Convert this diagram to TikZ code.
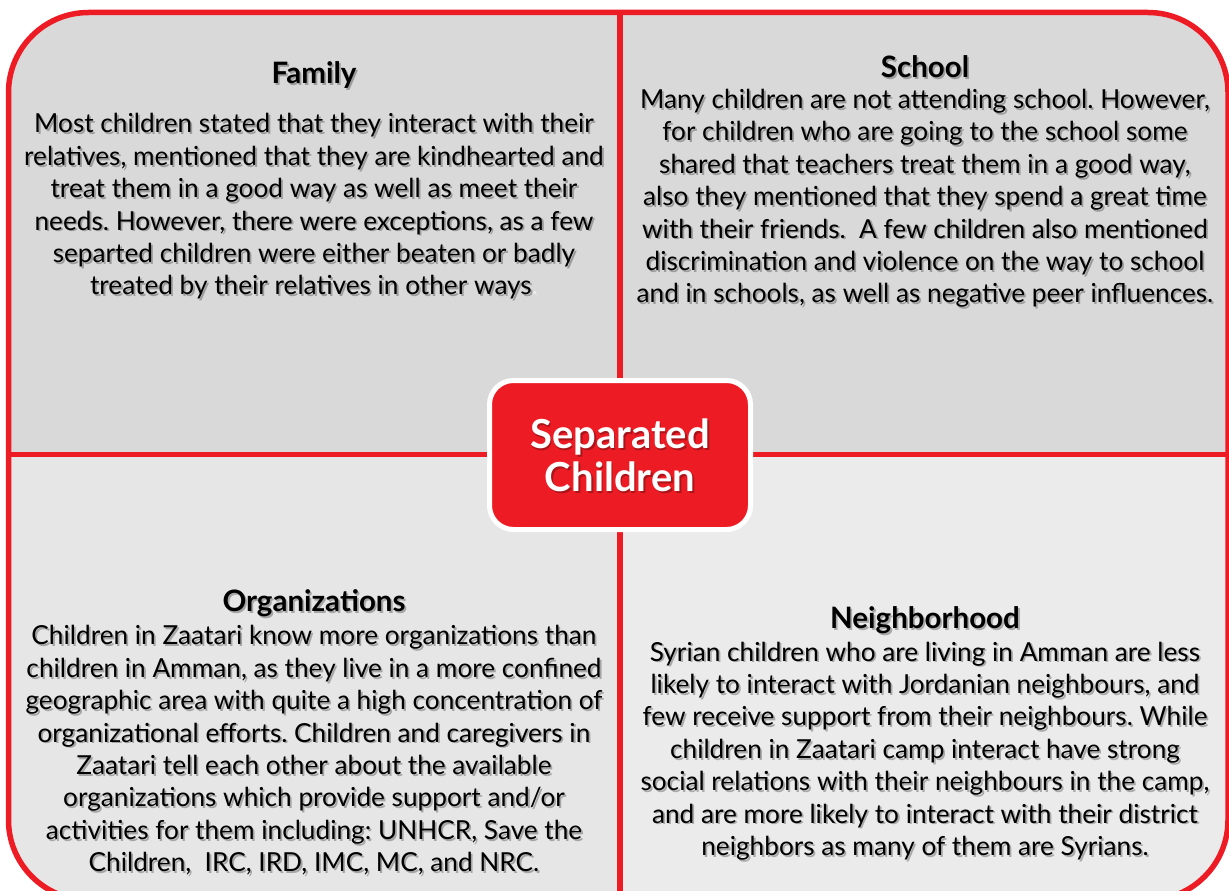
\documentclass[tikz,border=0pt]{standalone}
\usepackage{fontspec}
\setmainfont{Lato}
\frenchspacing
\definecolor{framered}{HTML}{ED1C24}
\definecolor{topgray}{HTML}{D9D9D9}
\definecolor{leftgray}{HTML}{E6E6E6}
\definecolor{rightgray}{HTML}{EBEBEB}
\tikzset{
  frameline/.style={draw=framered, line width=5.5pt},
  title/.style={font=\fontsize{29.5}{34}\selectfont\bfseries, inner sep=0pt},
  body/.style={font=\fontsize{26.2}{32.4}\selectfont, align=center, inner sep=0pt},
  hub/.style={fill=framered, draw=white, line width=5pt, rounded corners=24pt,
    minimum width=261pt, minimum height=149pt, inner sep=0pt},
  hubtext/.style={font=\fontsize{40}{43}\selectfont\bfseries, align=center,
    inner sep=0pt, text=white}
}
% text with a soft drop shadow: name, position, style, text
\newcommand\shadowtext[4]{%
  \node[#3, text=black, text opacity=0.28, xshift=1.8pt, yshift=-1.8pt] at #2 {#4};
  \node[#3] (#1) at #2 {#4};
}
\begin{document}
\begin{tikzpicture}[x=1pt,y=-1pt]
\useasboundingbox (0,0) rectangle (1229,891);
\clip (0,0) rectangle (1229,891);

% quadrant fills
\begin{scope}
  \clip[rounded corners=80pt] (8.5,12.5) rectangle (1228,900);
  \fill[topgray] (0,0) rectangle (1240,454.5);
  \fill[leftgray] (0,454.5) rectangle (620,910);
  \fill[rightgray] (620,454.5) rectangle (1240,910);
\end{scope}

% frame and dividers
\draw[frameline, rounded corners=80pt] (8.5,12.5) rectangle (1228,900);
\coordinate (vt) at (620,12.5);
\coordinate (vb) at (620,900);
\coordinate (hl) at (8.5,454.5);
\coordinate (hr) at (1228,454.5);
\draw[frameline] (vt) -- (vb);
\draw[frameline] (hl) -- (hr);

% centre box
\node[hub] (hub) at (620,455) {};
\shadowtext{hubt}{(620,455)}{hubtext}{Separated\\Children}

% Family
\shadowtext{famt}{(314,75.5)}{title}{Family}
\shadowtext{famb}{(314,206.5)}{body}{Most children stated that they interact with their\\
relatives, mentioned that they are kindhearted and\\
treat them in a good way as well as meet their\\
needs. However, there were exceptions, as a few\\
separted children were either beaten or badly\\
treated by their relatives in other ways\textcolor{white!85!gray}{.}}

% School
\shadowtext{scht}{(925,66.5)}{title}{School}
\shadowtext{schb}{(925,198.5)}{body}{Many children are not attending school. However,\\
for children who are going to the school some\\
shared that teachers treat them in a good way,\\
also they mentioned that they spend a great time\\
with their friends.\ \ A few children also mentioned\\
discrimination and violence on the way to school\\
and in schools, as well as negative peer influences.}

% Organizations
\shadowtext{orgt}{(314,603.5)}{title}{Organizations}
\shadowtext{orgb}{(314,750.5)}{body}{Children in Zaatari know more organizations than\\
children in Amman, as they live in a more confined\\
geographic area with quite a high concentration of\\
organizational efforts. Children and caregivers in\\
Zaatari tell each other about the available\\
organizations which provide support and/or\\
activities for them including: UNHCR, Save the\\
Children,\ \ IRC, IRD, IMC, MC, and NRC.}

% Neighborhood
\shadowtext{neit}{(925,620)}{title}{Neighborhood}
\shadowtext{neib}{(925,751)}{body}{Syrian children who are living in Amman are less\\
likely to interact with Jordanian neighbours, and\\
few receive support from their neighbours. While\\
children in Zaatari camp interact have strong\\
social relations with their neighbours in the camp,\\
and are more likely to interact with their district\\
neighbors as many of them are Syrians.}
\end{tikzpicture}
\end{document}
